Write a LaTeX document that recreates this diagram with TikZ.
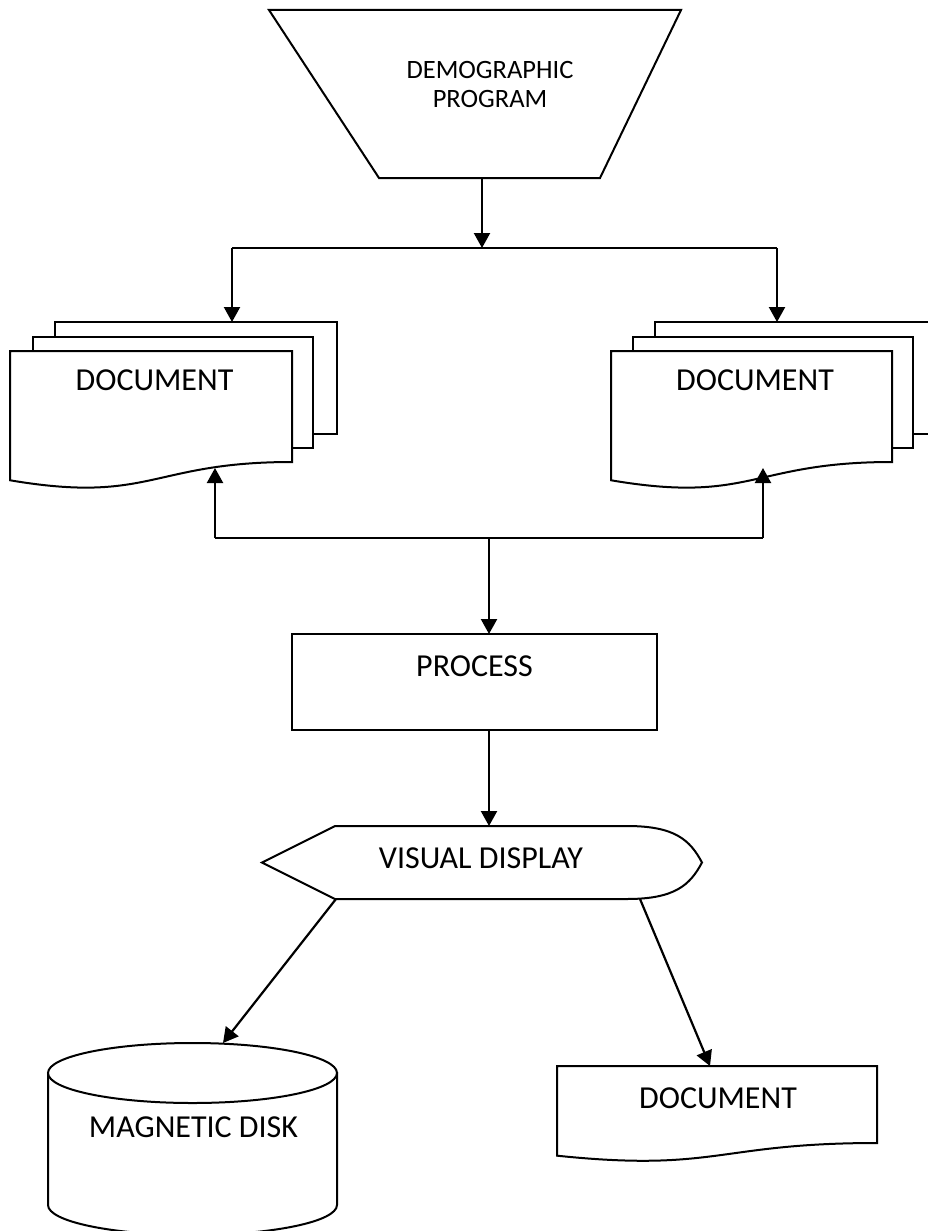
\documentclass[tikz,border=0pt]{standalone}
\usepackage{fontspec}
\setmainfont{Carlito}
\usetikzlibrary{arrows.meta}

\tikzset{
  outline/.style={draw=black, line width=2pt, fill=white, line join=miter},
  flow/.style={draw=black, line width=2.2pt, -{Triangle[length=15pt,width=16pt]}},
  link/.style={draw=black, line width=2.2pt},
  bigtext/.style={font=\fontsize{32}{38}\selectfont, inner sep=0pt},
  smalltext/.style={font=\fontsize{26.5}{29}\selectfont, inner sep=0pt, align=center},
}

% Flowchart "document" sheet: left x, top y, right x, y of the right end of the wavy edge
\newcommand\docsheet[4]{%
  \pgfmathsetmacro\dH{(#4-#2)/0.802}%
  \pgfmathsetmacro\dM{(#1+#3)/2}%
  \pgfmathsetmacro\dC{#2+1.107*\dH}%
  \pgfmathsetmacro\dL{#2+0.934*\dH}%
  \path[outline] (#1,#2) -- (#3,#2) -- (#3,#4)
    .. controls (\dM,#4) and (\dM,\dC) .. (#1,\dL) -- cycle;%
}

\begin{document}
\begin{tikzpicture}[x=1pt, y=-1pt]
  \clip (0,0) rectangle (928,1231);
  \path[fill=white] (0,0) rectangle (928,1231);

  % manual input (trapezoid)
  \path[outline] (269,10) -- (681,10) -- (600,178) -- (379,178) -- cycle;
  \node[smalltext] (demog) at (490,84.5) {DEMOGRAPHIC\\PROGRAM};

  % left multi-document
  \path[outline] (55,322) rectangle (337,434);
  \path[outline] (33,337) rectangle (313,448);
  \docsheet{10}{351}{292}{462}
  \node[bigtext] (ldoc) at (154.5,380) {DOCUMENT};

  % right multi-document
  \path[outline] (655,322) rectangle (937,434);
  \path[outline] (633,337) rectangle (913,448);
  \docsheet{611}{351}{892}{462}
  \node[bigtext] (rdoc) at (755,380) {DOCUMENT};

  % process
  \path[outline] (292,634) rectangle (657,730);
  \node[bigtext] (proc) at (474.5,666) {PROCESS};

  % display
  \path[outline] (262,862.5) -- (335,826) -- (627,826)
    .. controls (675,826) and (690,840) .. (702,862.5)
    .. controls (690,885) and (675,899) .. (627,899) -- (335,899) -- cycle;
  \node[bigtext] (disp) at (481,858) {VISUAL DISPLAY};

  % magnetic disk
  \path[outline] (48,1073) -- (48,1205)
    arc[start angle=180, end angle=0, x radius=144.5, y radius=30] -- (337,1073) -- cycle;
  \path[outline] (192.5,1073) ellipse [x radius=144.5, y radius=30];
  \node[bigtext] (disk) at (193.5,1127) {MAGNETIC DISK};

  % output document
  \docsheet{557}{1066}{877}{1143}
  \node[bigtext] (bdoc) at (718,1098) {DOCUMENT};

  % connection points
  \coordinate (trapOut) at (482,178);
  \coordinate (fork)    at (482,248);
  \coordinate (forkL)   at (232,248);
  \coordinate (forkR)   at (777,248);
  \coordinate (ldocTop) at (232,322);
  \coordinate (rdocTop) at (777,322);
  \coordinate (ldocBot) at (215,468);
  \coordinate (rdocBot) at (763,468);
  \coordinate (mergeL)  at (215,538);
  \coordinate (mergeR)  at (763,538);
  \coordinate (mergeC)  at (489,538);
  \coordinate (procTop) at (489,634);
  \coordinate (procBot) at (489,730);
  \coordinate (dispTop) at (489,826);
  \coordinate (dispBL)  at (336,899);
  \coordinate (dispBR)  at (640,899);
  \coordinate (diskTop) at (223,1043);
  \coordinate (bdocTop) at (710,1066);

  % connectors
  \draw[flow] (trapOut) -- (fork);
  \draw[link] (forkL) -- (forkR);
  \draw[flow] (forkL) -- (ldocTop);
  \draw[flow] (forkR) -- (rdocTop);
  \draw[link] (mergeL) -- (mergeR);
  \draw[flow] (mergeL) -- (ldocBot);
  \draw[flow] (mergeR) -- (rdocBot);
  \draw[flow] (mergeC) -- (procTop);
  \draw[flow] (procBot) -- (dispTop);
  \draw[flow] (dispBL) -- (diskTop);
  \draw[flow] (dispBR) -- (bdocTop);
\end{tikzpicture}
\end{document}
